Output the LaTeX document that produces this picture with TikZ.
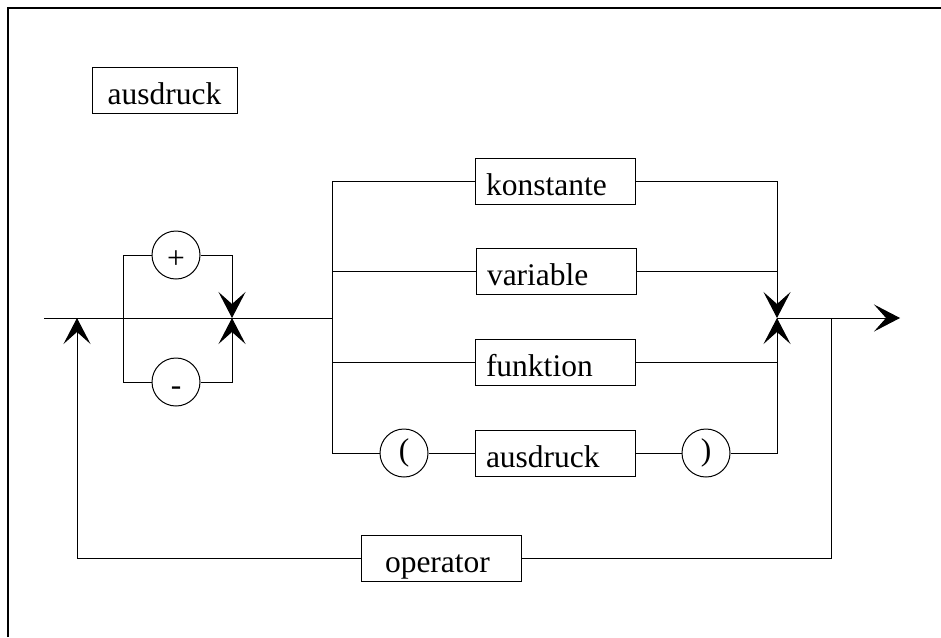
\documentclass[tikz,border=0pt]{standalone}
\usepackage{fontspec}
\setmainfont{Liberation Serif}
\usetikzlibrary{arrows.meta}
\begin{document}
\begin{tikzpicture}[x=1pt,y=-1pt,
  line width=1pt,
  font=\fontsize{31.5pt}{38pt}\selectfont,
  tip/.style={-{Stealth[length=26pt,width=27pt,inset=12pt]}},
  termbox/.style={draw, rectangle, minimum height=46pt, inner ysep=0pt,
    text height=28pt, text depth=0pt, align=left},
  termbox160/.style={termbox, inner xsep=11pt, text width=138pt},
  symcirc/.style={draw, circle, minimum size=48pt, inner sep=0pt}]

\useasboundingbox (0,0) rectangle (941,637);

% frame
\draw[line width=2pt] (8,637) -- (8,8) -- (941,8);

% rule name
\node[termbox, inner xsep=15.5pt, text width=114pt, align=center] (title) at (164.5,90) {ausdruck};

% junction points on the main line
\coordinate (start) at (44,318);
\coordinate (j1) at (123,318);
\coordinate (j2) at (232,318);
\coordinate (j3) at (332,318);
\coordinate (j4) at (777,318);
\coordinate (j5) at (831,318);
\coordinate (stop) at (900,318);
\coordinate (loop) at (77,318);

% sign
\node[symcirc, text height=26pt, text depth=0pt] (plus) at (176,255) {+};
\node[symcirc, text height=26pt, text depth=0pt] (minus) at (176,382) {-};

% alternatives
\node[termbox160] (konst) at (555,181) {konstante};
\node[termbox160] (var) at (556,271) {variable};
\node[termbox160] (funk) at (555,362) {funktion};
\node[symcirc] (lpar) at (404,453) {(};
\node[termbox160] (inner) at (555,453) {ausdruck};
\node[symcirc] (rpar) at (706,453) {)};

% repetition
\node[termbox, inner xsep=24pt, text width=112pt] (op) at (441,558) {operator};

% main line and sign branches
\draw (start) -- (j3);
\draw (j1) |- (plus);
\draw (j1) |- (minus);
\draw[tip] (plus) -| (j2);
\draw[tip] (minus) -| (j2);

% split into alternatives
\draw (j3) |- (konst);
\draw (j3) |- (var);
\draw (j3) |- (funk);
\draw (j3) |- (lpar);
\draw (lpar) -- (inner);
\draw (inner) -- (rpar);

% merge alternatives
\draw[tip] (konst) -| (j4);
\draw (var.east) -- (var.east -| j4);
\draw (funk.east) -- (funk.east -| j4);
\draw[tip] (rpar) -| (j4);
\draw[tip] (j4) -- (stop);

% loop back through operator
\draw (j5) |- (op);
\draw[tip] (op) -| (loop);

\end{tikzpicture}
\end{document}
